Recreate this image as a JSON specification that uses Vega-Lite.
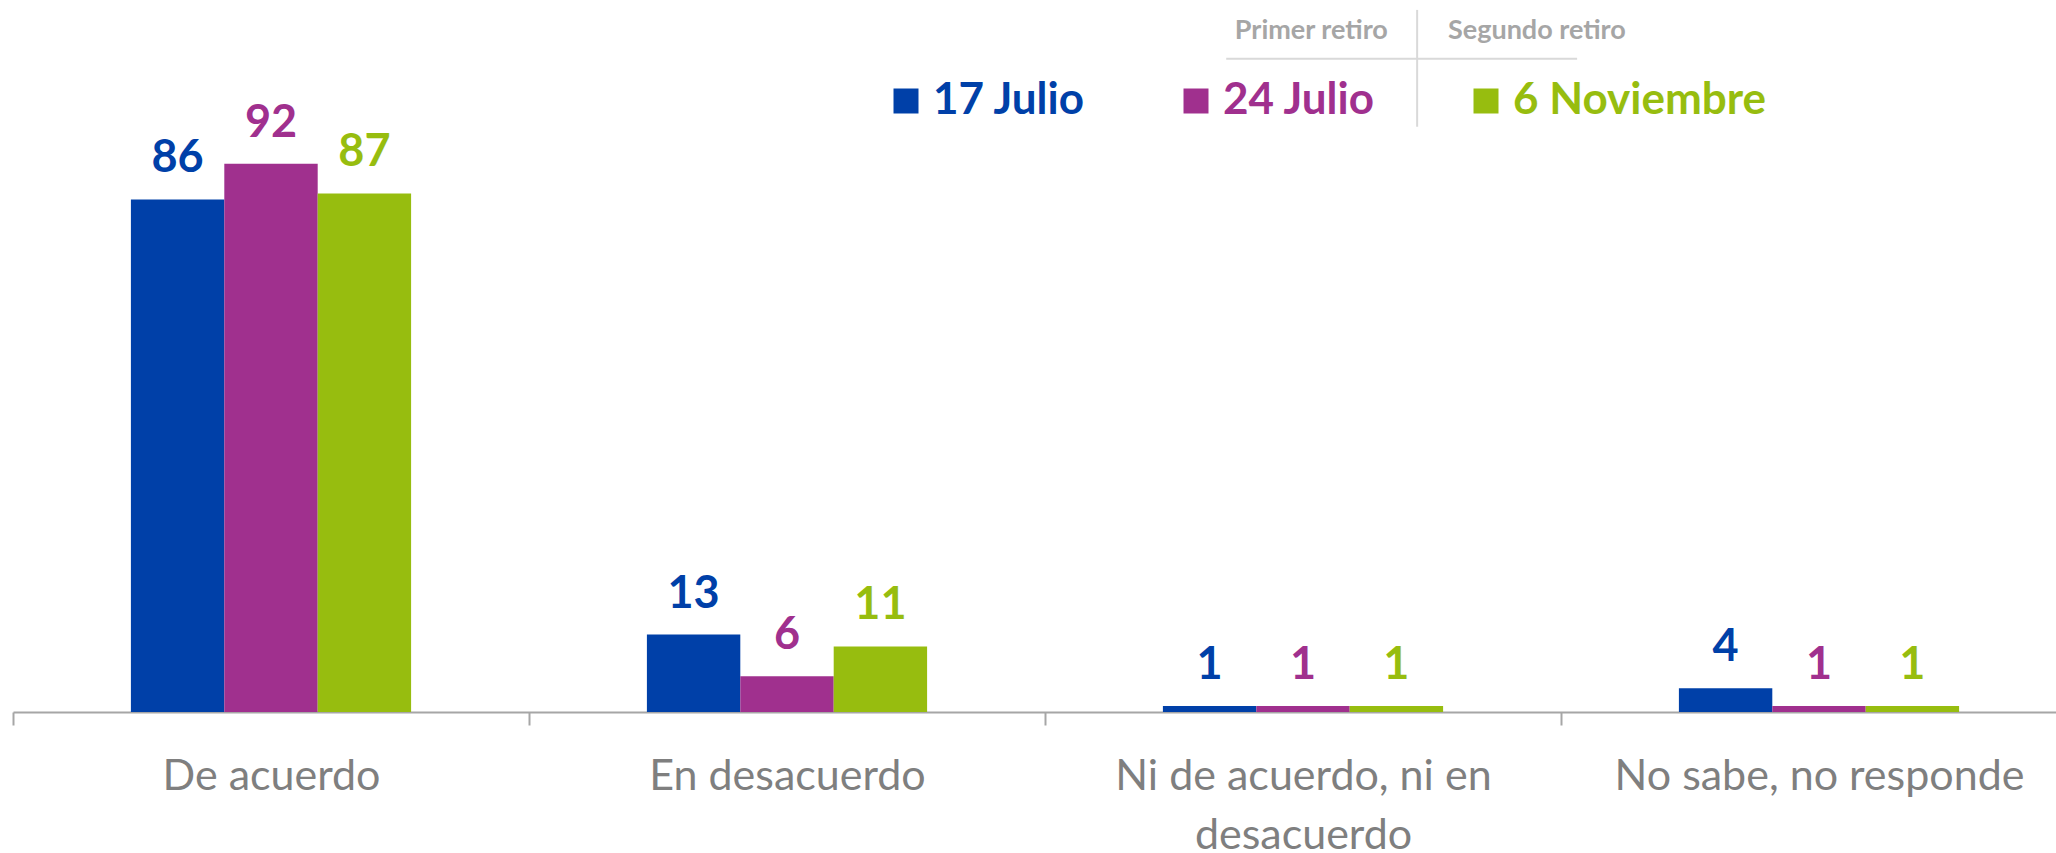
{
  "$schema": "https://vega.github.io/schema/vega-lite/v6.json",
  "autosize": "none",
  "width": 2043,
  "height": 596,
  "padding": {"left": 13, "top": 116, "right": 0, "bottom": 141},
  "background": "white",
  "config": {"view": {"stroke": null}},
  "layer": [
    {
      "data": {"values": [
        {"cat": "De acuerdo", "serie": "17 Julio", "value": 86},
        {"cat": "De acuerdo", "serie": "24 Julio", "value": 92},
        {"cat": "De acuerdo", "serie": "6 Noviembre", "value": 87},
        {"cat": "En desacuerdo", "serie": "17 Julio", "value": 13},
        {"cat": "En desacuerdo", "serie": "24 Julio", "value": 6},
        {"cat": "En desacuerdo", "serie": "6 Noviembre", "value": 11},
        {"cat": "Ni de acuerdo, ni en desacuerdo", "serie": "17 Julio", "value": 1},
        {"cat": "Ni de acuerdo, ni en desacuerdo", "serie": "24 Julio", "value": 1},
        {"cat": "Ni de acuerdo, ni en desacuerdo", "serie": "6 Noviembre", "value": 1},
        {"cat": "No sabe, no responde", "serie": "17 Julio", "value": 4},
        {"cat": "No sabe, no responde", "serie": "24 Julio", "value": 1},
        {"cat": "No sabe, no responde", "serie": "6 Noviembre", "value": 1}
      ]},
      "encoding": {
        "x": {
          "field": "cat", "type": "nominal", "sort": null,
          "scale": {"range": [0, 2064], "paddingInner": 0.457, "paddingOuter": 0.2285},
          "axis": {
            "title": null, "labelAngle": 0, "tickOffset": -258, "labelOffset": 258,
            "domainColor": "#a6a6a6", "domainWidth": 2,
            "tickColor": "#a6a6a6", "tickWidth": 2, "tickSize": 13,
            "labelFont": "Lato", "labelFontSize": 43, "labelColor": "#7f7f7f",
            "labelPadding": 30, "labelLineHeight": 59, "labelLimit": 700,
            "labelExpr": "datum.label == 'Ni de acuerdo, ni en desacuerdo' ? ['Ni de acuerdo, ni en', 'desacuerdo'] : datum.label"
          }
        },
        "xOffset": {"field": "serie", "type": "nominal", "sort": ["17 Julio", "24 Julio", "6 Noviembre"], "scale": {"paddingInner": 0, "paddingOuter": 0}},
        "y": {"field": "value", "type": "quantitative", "scale": {"domain": [0, 100], "nice": false, "zero": true}, "axis": null},
        "color": {
          "field": "serie", "type": "nominal",
          "scale": {"domain": ["17 Julio", "24 Julio", "6 Noviembre"], "range": ["#0040a8", "#a0308e", "#97bd0f"]}
        }
      },
      "layer": [
        {
          "mark": {"type": "bar"},
          "encoding": {
            "color": {
              "field": "serie", "type": "nominal",
              "scale": {"domain": ["17 Julio", "24 Julio", "6 Noviembre"], "range": ["#0040a8", "#a0308e", "#97bd0f"]},
              "legend": {
                "orient": "none", "legendX": 871, "legendY": -37, "direction": "horizontal",
                "title": null, "symbolType": "square", "symbolSize": 625, "symbolStrokeWidth": 0,
                "labelFont": "Lato", "labelFontSize": 44, "labelFontWeight": "bold",
                "labelOffset": 5, "columnPadding": 88, "gridAlign": "none", "labelLimit": 500,
                "padding": 0,
                "encode": {"labels": {"update": {"fill": {"signal": "scale('color', datum.value)"}}}}
              }
            }
          }
        },
        {
          "mark": {"type": "text", "font": "Lato", "fontSize": 45, "fontWeight": "bold", "baseline": "alphabetic", "dy": -27},
          "encoding": {
            "text": {"field": "value", "type": "quantitative"},
            "color": {"field": "serie", "type": "nominal", "legend": null}
          }
        }
      ]
    },
    {
      "data": {"values": [
        {"t": "Primer retiro", "px": 2.516, "py": 114.2},
        {"t": "Segundo retiro", "px": 2.953, "py": 114.2}
      ]},
      "mark": {"type": "text", "font": "Lato", "fontSize": 27, "fontWeight": "bold", "color": "#a6a6a6", "baseline": "middle"},
      "encoding": {
        "x": {"field": "px", "type": "quantitative", "scale": {"domain": [0, 3.959], "nice": false, "zero": false}, "axis": null},
        "y": {"field": "py", "type": "quantitative", "scale": {"domain": [0, 100], "nice": false}, "axis": null},
        "text": {"field": "t"}
      }
    },
    {
      "data": {"values": [
        {"px": 2.721, "px2": 2.721, "py": 117.8, "py2": 98.2},
        {"px": 2.351, "px2": 3.031, "py": 109.6, "py2": 109.6}
      ]},
      "mark": {"type": "rule", "color": "#d9d9d9", "strokeWidth": 2},
      "encoding": {
        "x": {"field": "px", "type": "quantitative", "scale": {"domain": [0, 3.959], "nice": false, "zero": false}, "axis": null},
        "x2": {"field": "px2"},
        "y": {"field": "py", "type": "quantitative", "scale": {"domain": [0, 100], "nice": false}, "axis": null},
        "y2": {"field": "py2"}
      }
    }
  ],
  "resolve": {"scale": {"x": "independent"}}
}
